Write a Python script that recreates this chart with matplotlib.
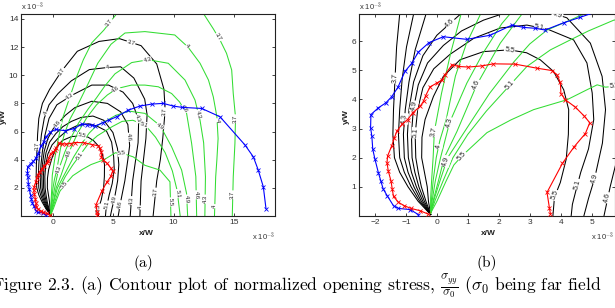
import numpy as np
import matplotlib
matplotlib.use('Agg')
import matplotlib.pyplot as plt

plt.rcParams['mathtext.fontset'] = 'cm'
SANS = 'Liberation Sans'

# ---------------- data (all in units of 1e-3 W) ----------------
# black contours (first stress field)
black_3_7 = [(-0.2,0.05),(-0.6,0.5),(-0.93,1.0),(-1.2,1.5),(-1.37,2.0),(-1.42,2.8),(-1.4,3.65),(-1.35,4.73),
             (-1.3,5.8),(-1.2,6.93),(-0.9,8.0),(-0.3,9.0),(0.7,10.3),(2.0,11.7),(3.8,12.4),(5.5,12.6),(7.3,12.1),
             (8.6,10.8),(9.2,9.0),(9.3,7.5),(9.1,5.5),(8.9,4.0),(8.6,2.5),(8.3,0.0)]
black_4_0 = [(-0.2,0.05),(-0.55,0.5),(-0.83,1.0),(-1.05,1.5),(-1.2,2.0),(-1.24,2.8),(-1.2,3.65),(-1.12,4.7),
             (-0.98,5.8),(-0.75,6.93),(-0.35,7.9),(0.4,8.7),(1.5,9.6),(3.0,10.4),(4.5,10.55),(5.6,10.6),(6.7,9.8),
             (7.6,8.3),(7.8,7.2),(7.7,5.5),(7.5,4.0),(7.3,2.5),(7.2,0.0)]
black_4_3 = [(-0.2,0.05),(-0.5,0.5),(-0.74,1.0),(-0.93,1.5),(-1.05,2.0),(-1.08,2.8),(-1.02,3.65),(-0.9,4.6),
             (-0.7,5.7),(-0.35,6.93),(0.3,7.9),(1.6,8.6),(3.2,9.3),(4.6,9.3),(5.8,8.8),(6.6,8.0),(7.1,6.8),
             (7.05,5.2),(6.85,4.0),(6.6,2.5),(6.4,0.0)]
black_4_6 = [(-0.2,0.05),(-0.45,0.5),(-0.66,1.0),(-0.82,1.5),(-0.92,2.0),(-0.95,2.8),(-0.9,3.65),(-0.75,4.6),
             (-0.45,5.5),(0.0,6.2),(0.43,6.61),(1.0,7.15),(1.8,7.7),(3.2,8.15),(4.5,8.0),(5.6,7.4),(6.2,6.5),
             (6.35,5.0),(6.2,4.0),(5.95,2.5),(5.6,1.0),(5.4,0.0)]
black_4_9 = [(-0.2,0.05),(-0.4,0.5),(-0.58,1.0),(-0.71,1.5),(-0.8,2.0),(-0.82,2.8),(-0.76,3.65),(-0.6,4.5),
             (-0.3,5.25),(0.21,5.85),(0.8,6.35),(1.51,6.72),(2.3,7.0),(3.3,7.1),(4.2,6.8),(4.96,5.93),(5.34,4.79),
             (5.45,3.65),(5.35,2.5),(5.1,1.3),(4.9,0.6),(4.75,0.0)]
black_5_1 = [(-0.2,0.05),(-0.35,0.5),(-0.5,1.0),(-0.6,1.5),(-0.68,2.0),(-0.7,2.8),(-0.62,3.65),(-0.45,4.4),
             (-0.1,5.05),(0.43,5.55),(1.2,6.1),(2.05,6.45),(2.91,6.55),(3.6,6.4),(4.42,6.04),(4.85,5.25),
             (5.02,4.22),(5.07,3.31),(4.9,2.3),(4.65,1.5),(4.5,0.9),(4.38,0.4),(4.34,0.0)]
black_5_5 = [(-0.2,0.05),(-0.27,0.5),(-0.31,1.0),(-0.4,1.5),(-0.49,2.0),(-0.48,2.7),(-0.38,3.31),(-0.11,4.1),
             (0.21,4.79),(0.75,5.36),(1.51,5.64),(2.35,5.7),(2.9,5.6),(3.34,5.36),(3.77,4.96),(4.1,4.33),
             (4.26,3.65),(4.25,2.8),(4.18,1.95),(3.99,1.15),(3.8,0.64),(3.75,0.0)]

# green contours (second stress field)
green_3_7 = [(-0.2,0.1),(-0.2,0.6),(-0.17,1.2),(-0.12,2.0),(-0.08,2.9),(0.15,4.2),(0.45,5.6),(0.8,7.0),
             (1.4,8.5),(1.95,9.9),(2.5,11.1),(3.2,12.3),(4.2,13.2),(5.3,14.4)]
green_3_7b = [(12.47,14.4),(13.3,13.3),(13.86,12.5),(14.4,11.56),(14.83,10.37),(14.96,8.7),(15.15,7.0),
              (15.1,5.16),(14.96,2.78),(14.88,0.0)]
green_4_0 = [(-0.2,0.1),(-0.17,0.6),(-0.12,1.2),(-0.02,2.0),(0.1,2.6),(0.3,3.3),(0.6,4.8),(0.95,5.9),(1.4,6.9),
             (2.1,8.0),(2.9,9.4),(3.7,10.85),(4.8,12.2),(5.96,13.0),(7.62,13.1),(10.1,12.86),(11.2,12.0),
             (12.2,10.85),(12.9,9.66),(13.3,8.47),(13.6,7.05),(13.7,5.5),(13.6,4.0),(13.5,2.78),(13.4,0.0)]
green_4_3 = [(-0.2,0.1),(-0.14,0.6),(-0.05,1.2),(0.12,2.0),(0.41,3.2),(0.97,4.56),(1.5,5.6),(2.1,6.6),
             (2.9,7.6),(3.6,8.4),(4.3,9.25),(5.13,10.1),(6.52,10.9),(7.9,11.1),(9.56,10.85),(10.95,9.66),
             (11.78,8.24),(12.2,6.8),(12.5,5.2),(12.65,2.78),(12.6,0.0)]
green_4_6 = [(-0.2,0.1),(-0.1,0.6),(0.05,1.2),(0.24,2.0),(0.65,2.9),(1.29,4.5),(2.05,5.93),(2.8,7.0),
             (3.6,7.9),(4.5,8.6),(5.3,9.05),(6.5,9.3),(7.62,9.3),(8.73,9.18),(9.84,8.7),(10.5,8.1),
             (11.08,7.3),(11.5,5.16),(11.85,2.8),(11.92,0.0)]
green_4_9 = [(-0.2,0.1),(-0.08,0.6),(0.1,1.2),(0.35,2.0),(0.9,2.9),(1.7,4.2),(2.5,5.3),(3.0,5.9),(3.56,6.38),
             (4.31,6.72),(5.2,7.15),(6.3,7.45),(7.62,7.29),(8.9,6.4),(9.84,4.91),(10.67,3.26),(11.08,1.6),
             (11.17,0.0)]
green_5_1 = [(-0.2,0.1),(-0.05,0.55),(0.2,1.2),(0.52,2.0),(1.0,2.8),(1.6,3.6),(2.37,4.5),(2.91,5.13),
             (3.67,5.7),(4.31,6.04),(4.9,6.35),(5.72,6.72),(6.6,6.8),(7.6,6.5),(8.5,5.6),(9.3,4.5),(9.9,3.2),
             (10.3,1.8),(10.55,0.0)]
green_5_5 = [(-0.2,0.1),(0.0,0.5),(0.3,1.2),(0.55,1.75),(0.81,2.06),(1.62,2.86),(2.4,3.3),(3.13,3.65),
             (4.21,3.99),(4.85,4.33),(5.18,4.5),(5.45,4.42),(5.75,4.45),(6.65,4.2),(7.62,3.6),(8.87,3.26),
             (9.7,2.43),(9.78,0.0)]

# boundaries with markers
blue_x = [-0.6,-0.86,-1.24,-1.4,-1.6,-1.73,-1.81,-1.89,-2.0,-2.07,-2.1,-2.14,-2.13,-1.89,-1.65,-1.46,-1.26,
          -1.03,-0.81,-0.6,-0.25,0.21,0.97,1.72,2.43,2.8,3.18,3.5,4.1,4.64,5.27,6.24,7.2,8.18,9.14,9.97,
          10.67,12.34,13.86,15.94,16.63,17.04,17.46,17.68]
blue_y = [0.05,0.22,0.26,0.35,0.69,0.92,1.2,1.49,1.95,2.29,2.74,3.03,3.48,3.71,3.88,4.09,4.41,
          4.96,5.24,5.62,5.95,6.15,6.06,6.2,6.55,6.47,6.44,6.38,6.63,6.82,7.05,7.52,7.81,7.95,8.0,7.81,
          7.72,7.64,7.05,5.04,4.2,3.26,2.07,0.53]
red_x = [-0.29,-0.54,-0.83,-1.05,-1.24,-1.4,-1.44,-1.48,-1.57,-1.61,-1.59,-1.46,-1.37,-1.29,-1.13,-0.94,
         -0.77,-0.54,-0.43,-0.36,-0.22,0.0,0.18,0.27,0.49,0.7,1.02,1.46,1.83,2.53,3.24,3.72,3.88,3.99,4.01,
         4.15,4.48,4.77,4.94,4.8,4.44,4.06,3.56,3.64,3.67]
red_y = [0.07,0.18,0.26,0.35,0.47,0.67,0.92,1.2,1.55,1.83,2.06,2.4,2.69,2.91,3.14,3.31,
         3.55,3.76,3.94,4.13,4.43,4.56,4.68,4.85,5.19,5.13,5.11,5.15,5.22,5.21,5.07,4.99,4.85,4.58,4.2,
         3.99,3.73,3.42,3.2,2.83,2.38,1.81,0.81,0.26,0.07]

# contour labels: (contour, approximate x, approximate y)
labels_a = [('B3.7',-1.4,5.0),('B3.7',0.7,10.25),('B3.7',6.4,12.15),('B3.7',9.3,7.4),('B3.7',8.45,1.7),
            ('B4',-0.3,7.2),('B4',4.5,10.5),('B4',7.2,0.6),
            ('B4.3',1.4,8.4),('B4.3',7.0,6.9),('B4.3',6.4,1.1),
            ('B4.6',0.5,6.4),('B4.6',6.3,5.6),('B4.6',5.6,0.8),
            ('B4.9',4.77,1.2),('B5.1',4.35,0.8),('B5.5',2.36,5.6),('B5.5',3.97,0.55),
            ('G3.7',4.7,13.7),('G3.7b',13.7,12.7),('G3.7b',15.2,6.9),('G3.7b',14.9,1.5),
            ('G4',11.1,12.0),('G4',13.7,6.8),('G4',13.35,0.7),
            ('G4.3',7.8,11.1),('G4.3',11.9,7.2),('G4.3',12.6,1.2),('G4.3',0.45,3.3),
            ('G4.6',5.2,9.0),('G4.6',10.3,7.3),('G4.6',11.7,1.5),('G4.6',1.25,4.45),
            ('G4.9',8.9,6.4),('G4.9',11.0,1.2),
            ('G5.1',7.6,6.5),('G5.1',10.4,1.6),('G5.1',2.2,4.3),
            ('G5.5',5.7,4.45),('G5.5',9.7,1.0),('G5.5',0.9,2.2)]
labels_b = [('B3.7',-1.35,4.73),('B4.3',-0.99,3.33),('B4.9',-0.6,3.74),('B5.1',-0.7,2.85),('B4.6',0.43,6.61),
            ('B5.5',2.35,5.68),('B5.5',3.88,0.69),('B5.1',4.53,1.09),('B4.9',5.02,1.32),('B4.6',5.45,0.64),
            ('B5.1',3.34,6.6),('B4.9',3.85,6.75),
            ('G3.7',-0.11,2.91),('G4',-0.05,2.4),('G4.3',0.41,3.2),('G4.6',1.29,4.5),('G4.9',0.27,1.89),
            ('G5.1',2.37,4.5),('G5.5',0.81,2.06),('G5.5',5.72,4.57)]

# ---------------- assemble ----------------
contours = {
    'B3.7': (black_3_7, 'k', '3.7'), 'B4': (black_4_0, 'k', '4'), 'B4.3': (black_4_3, 'k', '4.3'),
    'B4.6': (black_4_6, 'k', '4.6'), 'B4.9': (black_4_9, 'k', '4.9'), 'B5.1': (black_5_1, 'k', '5.1'),
    'B5.5': (black_5_5, 'k', '5.5'),
    'G3.7': (green_3_7, 'g', '3.7'), 'G3.7b': (green_3_7b, 'g', '3.7'), 'G4': (green_4_0, 'g', '4'),
    'G4.3': (green_4_3, 'g', '4.3'), 'G4.6': (green_4_6, 'g', '4.6'), 'G4.9': (green_4_9, 'g', '4.9'),
    'G5.1': (green_5_1, 'g', '5.1'), 'G5.5': (green_5_5, 'g', '5.5'),
}
COL = {'k': '#000000', 'g': '#33dd33'}

W, H = 615, 308
fig = plt.figure(figsize=(W/100, H/100), dpi=100)
axA = fig.add_axes([21/W, 1-216/H, 254/W, 202/H])
axB = fig.add_axes([359.3/W, 1-216/H, 255.5/W, 202/H])


def put_labels(ax, labels, fs):
    inv = ax.transData.inverted()
    for name, lx, ly in labels:
        pts, _, txt = contours[name]
        P = ax.transData.transform(np.array(pts))
        q = ax.transData.transform((lx, ly))
        best = None
        for i in range(len(P)-1):
            a, b = P[i], P[i+1]
            d = b - a
            L2 = (d**2).sum()
            t = np.clip(((q-a) @ d)/L2, 0, 1) if L2 > 0 else 0.0
            c = a + t*d
            dist = np.hypot(*(q-c))
            if best is None or dist < best[0]:
                best = (dist, c, d)
        _, c, d = best
        ang = np.degrees(np.arctan2(d[1], d[0]))
        if ang > 90:
            ang -= 180
        if ang < -90:
            ang += 180
        x, y = inv.transform(c)
        ax.text(x, y, txt, rotation=ang, rotation_mode='anchor', ha='center', va='center',
                fontsize=fs, family=SANS, color='#222222', clip_on=True, zorder=3,
                bbox=dict(boxstyle='square,pad=0.08', fc='white', ec='none'))


def style(ax, xlim, ylim, xt, yt, fs):
    ax.set_xlim(*xlim)
    ax.set_ylim(*ylim)
    ax.set_xticks(xt)
    ax.set_yticks(yt)
    ax.set_xticklabels([('\u2212' if v < 0 else '') + str(abs(v)) for v in xt], family=SANS, fontsize=fs)
    ax.set_yticklabels([str(v) for v in yt], family=SANS, fontsize=fs)
    ax.tick_params(direction='in', length=2.5, width=0.6, top=True, right=True, pad=2,
                   colors='#222222', labelcolor='#333333')
    for s in ax.spines.values():
        s.set_linewidth(0.8)
        s.set_color('#222222')


def draw(ax, labels, fs_lab, ms):
    for name, (pts, c, _) in contours.items():
        arr = np.array(pts)
        ax.plot(arr[:, 0], arr[:, 1], color=COL[c], lw=0.75, zorder=1, solid_joinstyle='round')
    put_labels(ax, labels, fs_lab)
    ax.plot(blue_x, blue_y, color='#0000ff', lw=0.8, marker='x', ms=ms, mew=0.6, zorder=4)
    ax.plot(red_x, red_y, color='#ff0000', lw=0.8, marker='x', ms=ms, mew=0.6, zorder=4)


style(axA, (-2.68, 18.43), (0, 14.35), [0, 5, 10, 15], [2, 4, 6, 8, 10, 12, 14], 6)
style(axB, (-2.505, 5.75), (0, 6.93), [-2, -1, 0, 1, 2, 3, 4, 5], [1, 2, 3, 4, 5, 6], 6)
draw(axA, labels_a, 4.2, 2.2)
draw(axB, labels_b, 5.2, 2.8)

for ax, xl, yl in ((axA, 0.495, -0.069), (axB, 0.506, -0.05)):
    ax.text(xl, -0.085, 'x/W', transform=ax.transAxes, ha='center', va='center',
            fontsize=6, fontweight='bold', family=SANS, color='#222222')
    ax.text(yl, 0.49, 'y/W', transform=ax.transAxes, ha='center', va='center',
            rotation=90, fontsize=6, fontweight='bold', family=SANS, color='#222222')
    ax.text(0.0, 1.035, r'x 10$^{-3}$', transform=ax.transAxes, ha='left', va='center',
            fontsize=5.5, family=SANS, color='#333333')
    ax.text(1.0, -0.1, r'x 10$^{-3}$', transform=ax.transAxes, ha='right', va='center',
            fontsize=5.5, family=SANS, color='#333333', clip_on=False)

# caption
fig.text(143/W, 1-263/H, '(a)', ha='center', va='center', fontsize=11, family='cmr10')
fig.text(487/W, 1-263/H, '(b)', ha='center', va='center', fontsize=11, family='cmr10')
fig.text(-8/W, 1-291/H,
         r'Figure 2.3. (a) Contour plot of normalized opening stress, $\frac{\sigma_{yy}}{\sigma_0}$ ($\sigma_0$ being far field',
         ha='left', va='baseline', fontsize=12.6, family='cmr10')

fig.savefig('out.png', dpi=100)
